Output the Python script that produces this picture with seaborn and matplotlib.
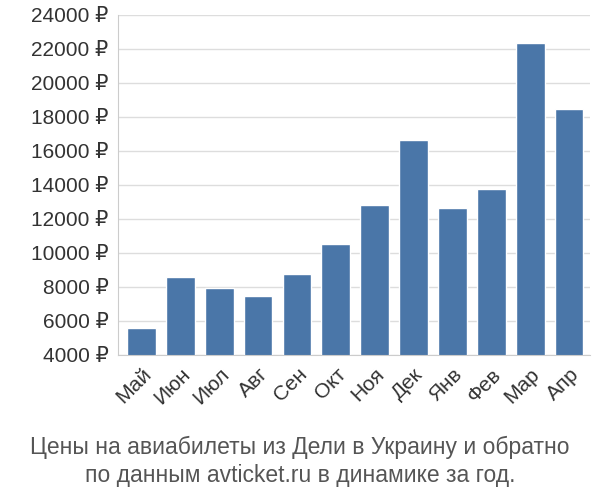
import matplotlib
matplotlib.use('Agg')
import matplotlib.pyplot as plt
import seaborn as sns

months = ['Май', 'Июн', 'Июл', 'Авг', 'Сен', 'Окт', 'Ноя', 'Дек', 'Янв', 'Фев', 'Мар', 'Апр']
prices = [5600, 8600, 7950, 7500, 8750, 10550, 12850, 16650, 12650, 13750, 22350, 18500]
yticks = list(range(4000, 24001, 2000))

sns.set_style('white')
plt.rcParams['font.family'] = ['Liberation Sans', 'DejaVu Sans']

fig = plt.figure(figsize=(6, 5), dpi=100)
ax = fig.add_axes([0.197, 0.29, 0.787, 0.68])
sns.barplot(x=months, y=prices, color='#4a76a8', saturation=1, width=0.74, ax=ax, zorder=2)
ax.set_ylim(4000, 24000)
ax.set_yticks(yticks)
ax.set_yticklabels([f'{v} ₽' for v in yticks], fontsize=15, color='#333333')
ax.tick_params(axis='x', labelsize=15, labelcolor='#333333', rotation=45)
for lbl in ax.get_xticklabels():
    lbl.set_ha('right')
    lbl.set_rotation_mode('anchor')
ax.grid(axis='y', color='#dddddd', linewidth=1, zorder=0)
for s in ['top', 'right']:
    ax.spines[s].set_visible(False)
ax.spines['left'].set_color('#cccccc')
ax.spines['bottom'].set_color('#cccccc')
ax.set_xlim(-0.6, 11.55)
fig.text(0.5, 0.077, 'Цены на авиабилеты из Дели в Украину и обратно\nпо данным avticket.ru в динамике за год.',
         ha='center', va='center', fontsize=16.5, color='#555555', linespacing=1.3)
fig.savefig('out.png')
